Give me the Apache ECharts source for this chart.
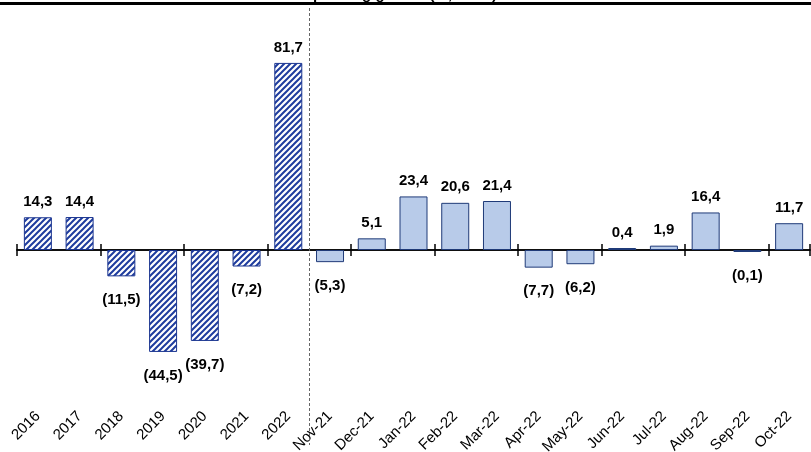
<!DOCTYPE html>
<html>
<head>
<meta charset="utf-8">
<script src="https://cdn.jsdelivr.net/npm/echarts@6/dist/echarts.min.js"></script>
<style>
  html, body { margin: 0; padding: 0; background: #fff; }
  #chart { width: 811px; height: 452px; }
</style>
</head>
<body>
<div id="chart"></div>
<script>
// Annual figures (hatched bars)
const annualCategories = ['2016', '2017', '2018', '2019', '2020', '2021', '2022'];
const annualValues = [14.3, 14.4, -11.5, -44.5, -39.7, -7.2, 81.7];

// Monthly figures (solid bars)
const monthlyCategories = ['Nov-21', 'Dec-21', 'Jan-22', 'Feb-22', 'Mar-22', 'Apr-22',
  'May-22', 'Jun-22', 'Jul-22', 'Aug-22', 'Sep-22', 'Oct-22'];
const monthlyValues = [-5.3, 5.1, 23.4, 20.6, 21.4, -7.7, -6.2, 0.4, 1.9, 16.4, -0.1, 11.7];

const titleText = 'Spending growth (%, mom)';

const categories = annualCategories.concat(monthlyCategories);

const FONT = '"Liberation Sans", Arial, sans-serif';

// Diagonal hatch tile for the annual bars
function hatchPattern() {
  const c = document.createElement('canvas');
  c.width = 6; c.height = 6;
  const g = c.getContext('2d');
  g.fillStyle = '#ffffff';
  g.fillRect(0, 0, 6, 6);
  g.strokeStyle = '#1e3c9e';
  g.lineWidth = 2.0;
  g.beginPath();
  g.moveTo(-1, 1); g.lineTo(1, -1);
  g.moveTo(-1, 7); g.lineTo(7, -1);
  g.moveTo(5, 7); g.lineTo(7, 5);
  g.stroke();
  return { image: c, repeat: 'repeat' };
}

function fmt(v) {
  const s = Math.abs(v).toFixed(1).replace('.', ',');
  return v < 0 ? '(' + s + ')' : s;
}

const hatch = hatchPattern();

function labelFor(v) {
  return v < 0 ? { position: 'bottom', distance: 16 } : { position: 'top', distance: 8 };
}

const barData = [];
annualValues.forEach(function (v) {
  barData.push({
    value: v,
    itemStyle: { color: hatch, borderColor: '#1b3590', borderWidth: 1 },
    label: labelFor(v)
  });
});
monthlyValues.forEach(function (v) {
  barData.push({
    value: v,
    itemStyle: { color: '#b8cbe9', borderColor: '#1f3a78', borderWidth: 1 },
    label: labelFor(v)
  });
});

const chart = echarts.init(document.getElementById('chart'), null, { renderer: 'canvas' });

chart.setOption({
  animation: false,
  backgroundColor: '#ffffff',
  grid: { left: 17, right: 1, top: 21, bottom: 60, outerBoundsMode: 'none', containLabel: false },
  xAxis: [
    {
      type: 'category',
      data: categories,
      position: 'bottom',
      axisLine: { show: true, onZero: true, onZeroAxisIndex: 0, lineStyle: { color: '#000', width: 1.5 } },
      axisTick: { show: true, inside: false, length: 6, lineStyle: { color: '#000', width: 1.5 } },
      axisLabel: { show: false },
      splitLine: { show: false }
    },
    {
      type: 'category',
      data: categories,
      position: 'bottom',
      axisLine: { show: true, onZero: true, onZeroAxisIndex: 0, lineStyle: { color: '#000', width: 1.5 } },
      axisTick: { show: true, inside: true, length: 6, lineStyle: { color: '#000', width: 1.5 } },
      axisLabel: { show: false },
      splitLine: { show: false }
    },
    {
      type: 'category',
      data: categories,
      position: 'bottom',
      axisLine: { show: false, onZero: false },
      axisTick: { show: false },
      axisLabel: {
        show: true,
        interval: 0,
        rotate: 45,
        margin: 22,
        color: '#000',
        fontFamily: FONT,
        fontSize: 15
      },
      splitLine: { show: false }
    }
  ],
  yAxis: {
    type: 'value',
    min: -62,
    max: 100,
    show: false,
    splitLine: { show: false }
  },
  series: [
    {
      type: 'bar',
      xAxisIndex: 0,
      barWidth: 28,
      barMinHeight: 2,
      data: barData,
      label: {
        show: true,
        color: '#000',
        fontFamily: FONT,
        fontWeight: 'bold',
        fontSize: 15,
        formatter: function (p) { return fmt(p.value); }
      }
    }
  ]
});

// Separator between annual and monthly blocks, top rule and heading
const xLast = chart.convertToPixel({ xAxisIndex: 0 }, annualCategories[annualCategories.length - 1]);
const xFirst = chart.convertToPixel({ xAxisIndex: 0 }, monthlyCategories[0]);
const sepX = Math.round((xLast + xFirst) / 2) + 0.5;

chart.setOption({
  graphic: [
    {
      type: 'text',
      x: 400,
      y: 2,
      z: 10,
      style: {
        text: titleText,
        align: 'center',
        verticalAlign: 'bottom',
        fill: '#000',
        font: 'bold 15px ' + FONT
      }
    },
    {
      type: 'rect',
      z: 11,
      shape: { x: 0, y: 2, width: 811, height: 3 },
      style: { fill: '#000' }
    },
    {
      type: 'line',
      z: 5,
      shape: { x1: sepX, y1: 8, x2: sepX, y2: 445 },
      style: { stroke: '#666', lineWidth: 1, lineDash: [3, 2] }
    }
  ]
});
</script>
</body>
</html>
